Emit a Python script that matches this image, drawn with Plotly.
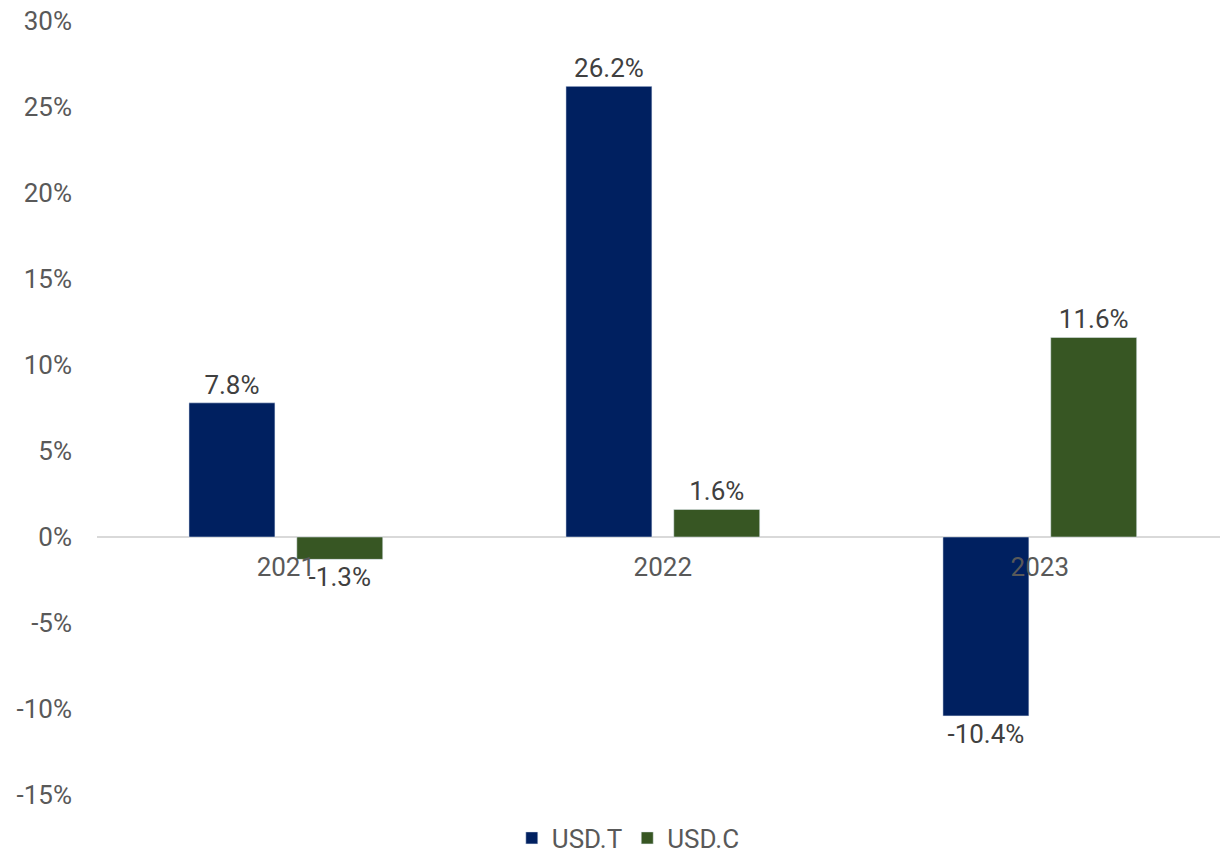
import plotly.graph_objects as go

years = ["2021", "2022", "2023"]
usd_t = [7.8, 26.2, -10.4]
usd_c = [-1.3, 1.6, 11.6]
y_ticks = [-15, -10, -5, 0, 5, 10, 15, 20, 25, 30]
y_tick_labels = ["-15%", "-10%", "-5%", "0%", "5%", "10%", "15%", "20%", "25%", "30%"]

navy = "#002060"
green = "#375623"
font_family = "Roboto"
FS = 26

W = 0.228
GAP = 0.058

fig = go.Figure()
fig.add_trace(go.Bar(
    x=years, y=usd_t, name="USD.T", marker_color=navy,
    width=W, offset=-(W + GAP / 2),
    text=[f"{v:.1f}%" for v in usd_t], textposition="outside",
    textfont=dict(size=FS, color="#404040", family=font_family),
    cliponaxis=False,
))
fig.add_trace(go.Bar(
    x=years, y=usd_c, name="USD.C", marker_color=green,
    width=W, offset=GAP / 2,
    text=[f"{v:.1f}%" for v in usd_c], textposition="outside",
    textfont=dict(size=FS, color="#404040", family=font_family),
    cliponaxis=False,
))

fig.update_layout(
    width=1220, height=853,
    margin=dict(l=97, r=0, t=21, b=58, autoexpand=False),
    plot_bgcolor="white", paper_bgcolor="white",
    font=dict(family=font_family, size=FS, color="#595959"),
    barmode="group",
    showlegend=True,
    legend=dict(orientation="h", xref="container", x=0.515, xanchor="center",
                yref="container", y=(853 - 838) / 853, yanchor="middle",
                font=dict(size=FS, color="#595959"), itemwidth=30,
                traceorder="normal"),
)
fig.update_xaxes(
    type="category", range=[-0.501, 2.478],
    anchor="free", position=(0 - (-15)) / 45,
    showline=False, showgrid=False, ticks="",
    ticklabelstandoff=12,
    tickfont=dict(size=FS, color="#595959"),
)
fig.update_yaxes(
    range=[-15, 30], tickvals=y_ticks, ticktext=y_tick_labels,
    showgrid=False, zeroline=True, zerolinecolor="#d9d9d9", zerolinewidth=2,
    showline=False, ticks="", ticklabelstandoff=24,
    tickfont=dict(size=FS, color="#595959"),
)

fig.write_html("out.html")
